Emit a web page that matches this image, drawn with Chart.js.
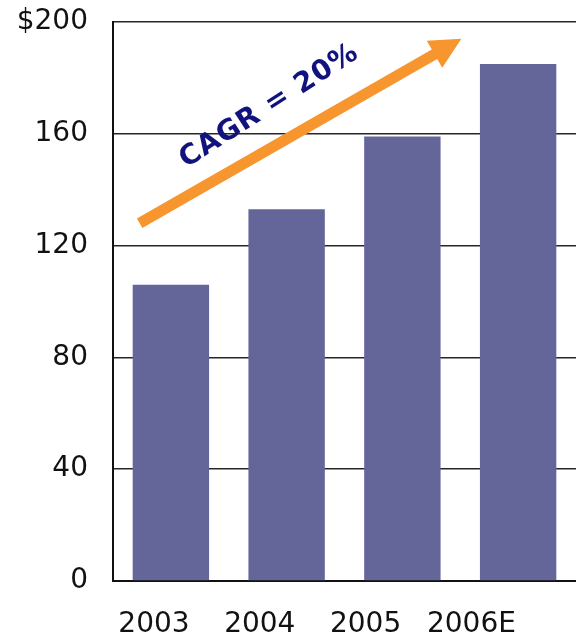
<!DOCTYPE html>
<html>
<head>
<meta charset="utf-8">
<script src="https://cdn.jsdelivr.net/npm/chart.js@4.4.0/dist/chart.umd.min.js"></script>
<style>
  html, body { margin: 0; padding: 0; background: #fff; }
  #wrap { width: 576px; height: 640px; }
</style>
</head>
<body>
<div id="wrap"><canvas id="myChart"></canvas></div>
<script>
// omzet per jaar in $, 2006 is een schatting
const jaren = ["2003", "2004", "2005", "2006E"];
const omzet = [106, 133, 159, 185];
const yTicks = [0, 40, 80, 120, 160, 200];

// groeipijl in data-coordinaten (x = index van het jaar)
const pijlVan = { x: -0.27, y: 128 };
const pijlNaar = { x: 2.51, y: 194 };
const pijlTekst = "CAGR = 20%";

// positie van de jaartallen op de onderste as
const labelMin = -0.387;
const labelMax = 3.988;

const tickFont = { family: "'DejaVu Sans', Verdana, sans-serif", size: 28 };

// tekent de oranje pijl met de CAGR tekst erboven
const groeiPijl = {
  id: "groeiPijl",
  afterDatasetsDraw(chart) {
    const { ctx, scales } = chart;
    const x1 = scales.x.getPixelForValue(pijlVan.x);
    const y1 = scales.y.getPixelForValue(pijlVan.y);
    const x2 = scales.x.getPixelForValue(pijlNaar.x);
    const y2 = scales.y.getPixelForValue(pijlNaar.y);
    const hoek = Math.atan2(y2 - y1, x2 - x1);
    const lengte = Math.hypot(x2 - x1, y2 - y1);
    ctx.save();
    ctx.translate(x1, y1);
    ctx.rotate(hoek);
    ctx.fillStyle = "#f7962f";
    ctx.fillRect(0, -5.5, lengte - 28, 11);
    ctx.beginPath();
    ctx.moveTo(lengte, 0);
    ctx.lineTo(lengte - 31, -15.5);
    ctx.lineTo(lengte - 31, 15.5);
    ctx.closePath();
    ctx.fill();
    ctx.translate(lengte * 0.46, -37);
    ctx.rotate(-0.05);
    ctx.fillStyle = "#12127f";
    ctx.font = "bold 28px 'DejaVu Sans', Verdana, sans-serif";
    ctx.letterSpacing = "1px";
    ctx.textAlign = "center";
    ctx.textBaseline = "middle";
    ctx.fillText(pijlTekst, 0, 0);
    ctx.restore();
  },
};

function grafiek() {
  const myChart = document.getElementById("myChart");
  new Chart(myChart, {
    type: "bar",
    data: {
      labels: jaren,
      datasets: [
        {
          data: omzet,
          backgroundColor: "#64669a",
          barPercentage: 0.66,
          categoryPercentage: 1,
        },
      ],
    },
    options: {
      responsive: true,
      maintainAspectRatio: false,
      animation: false,
      layout: { padding: { top: 22, right: 0, bottom: 0, left: 0 } },
      plugins: {
        legend: { display: false },
        tooltip: { enabled: false },
      },
      scales: {
        x: { display: false },
        // jaartallen staan iets links van de staven
        xLabels: {
          type: "linear",
          position: "bottom",
          offset: false,
          min: labelMin,
          max: labelMax,
          afterBuildTicks: (s) => {
            s.ticks = jaren.map((j, i) => ({ value: i }));
            s.min = labelMin;
            s.max = labelMax;
          },
          afterFit: (s) => {
            s.height = 59;
            s.paddingLeft = 0;
            s.paddingRight = 0;
          },
          grid: { display: false, drawTicks: false, offset: false },
          border: { display: true, color: "#111", width: 2 },
          ticks: {
            padding: 27,
            autoSkip: false,
            maxRotation: 0,
            color: "#111",
            font: tickFont,
            callback: (v) => jaren[v],
          },
        },
        y: {
          min: 0,
          max: 200,
          afterBuildTicks: (s) => {
            s.ticks = yTicks.map((v) => ({ value: v }));
          },
          afterFit: (s) => {
            s.width = 113;
            s.paddingTop = 0;
            s.paddingBottom = 0;
          },
          grid: { color: "#262626", lineWidth: 1.6, drawTicks: false },
          border: { color: "#111", width: 2 },
          ticks: {
            padding: 25,
            color: "#111",
            font: tickFont,
            callback: (v) => (v === 200 ? "$200" : v),
          },
        },
      },
    },
    plugins: [groeiPijl],
  });
}

grafiek();
</script>
</body>
</html>
